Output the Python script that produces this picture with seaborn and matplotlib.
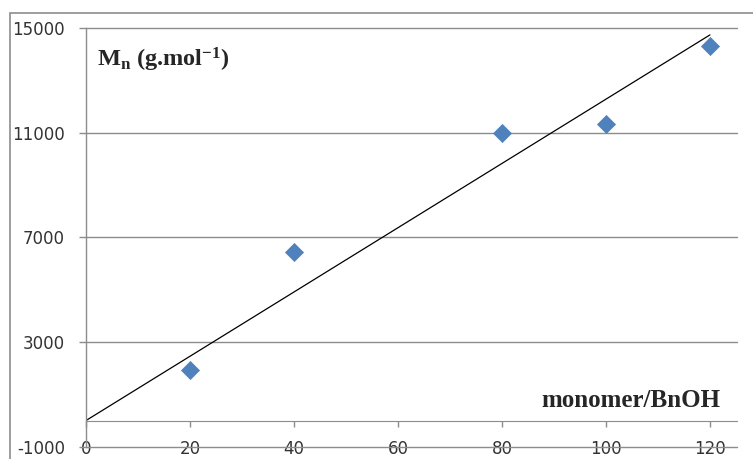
import numpy as np
import pandas as pd
import matplotlib
matplotlib.use('Agg')
import matplotlib.pyplot as plt
import seaborn as sns

# data
ratio = [20, 40, 80, 100, 120]
mn_values = [1950, 6450, 11000, 11350, 14300]
x_ticks = [0, 20, 40, 60, 80, 100, 120]
y_ticks = [-1000, 3000, 7000, 11000, 15000]

df = pd.DataFrame({'ratio': ratio, 'mn': mn_values})

# linear trendline forced through the origin
slope = np.sum(df['ratio'] * df['mn']) / np.sum(df['ratio'] ** 2)
trend = pd.DataFrame({'ratio': [0, 120]})
trend['mn'] = slope * trend['ratio']

sns.set_style('white')
plt.rcParams['font.family'] = ['DejaVu Sans']
plt.rcParams['axes.unicode_minus'] = False
plt.rcParams['mathtext.fontset'] = 'custom'
plt.rcParams['mathtext.rm'] = 'Liberation Serif:bold'
plt.rcParams['mathtext.it'] = 'Liberation Serif:bold'
plt.rcParams['mathtext.bf'] = 'Liberation Serif:bold'

grid_color = '#8c8c8c'
label_color = '#333333'

fig = plt.figure(figsize=(7.53, 4.59), dpi=100)
ax = fig.add_axes([86 / 753, 1 - 446.7 / 459, 651 / 753, 418.7 / 459])

ax.set_xlim(0, 125.2)
ax.set_ylim(-1000, 15000)
ax.set_xticks(x_ticks)
ax.set_yticks(y_ticks)

for y in y_ticks:
    ax.axhline(y, color=grid_color, lw=1, zorder=1, clip_on=False)

sns.lineplot(data=trend, x='ratio', y='mn', color='black', lw=0.9, ax=ax, zorder=2)
sns.scatterplot(data=df, x='ratio', y='mn', marker='D', s=85, color='#4f81bd',
                edgecolor='#4f81bd', linewidth=0.5, ax=ax, zorder=3)

# horizontal axis crosses at y = 0, its labels sit low at the bottom
for side in ['top', 'right']:
    ax.spines[side].set_visible(False)
ax.spines['bottom'].set_position(('data', 0))
ax.spines['bottom'].set_color(grid_color)
ax.spines['left'].set_color(grid_color)
ax.spines['left'].set_linewidth(1)

ax.tick_params(axis='y', direction='out', length=5.25, width=1, color=grid_color,
               pad=10, labelsize=12, labelcolor=label_color, left=True)
ax.tick_params(axis='x', direction='out', length=4.5, width=1, color=grid_color,
               labelbottom=False, bottom=True)
ax.set_xlabel('')
ax.set_ylabel('')

low_axis = ax.secondary_xaxis(0)
low_axis.set_xticks(x_ticks)
low_axis.tick_params(length=0, pad=-4.5, labelsize=12, labelcolor=label_color)
for sp in low_axis.spines.values():
    sp.set_visible(False)

ax.text(0.017, 0.924, r'M$_\mathrm{n}$ (g.mol$^\mathrm{-1}$)', transform=ax.transAxes,
        family='Liberation Serif', fontweight='bold', fontsize=17.5, va='center', ha='left')
ax.text(0.974, 0.111, 'monomer/BnOH', transform=ax.transAxes,
        family='Liberation Serif', fontweight='bold', fontsize=18, va='center', ha='right')

# outer chart-area border
border = plt.Rectangle((10 / 753, -0.1), 1.2, 1.1 - 13 / 459, transform=fig.transFigure,
                       fill=False, edgecolor=grid_color, lw=1.2)
fig.add_artist(border)

fig.savefig('out.png', dpi=100)
